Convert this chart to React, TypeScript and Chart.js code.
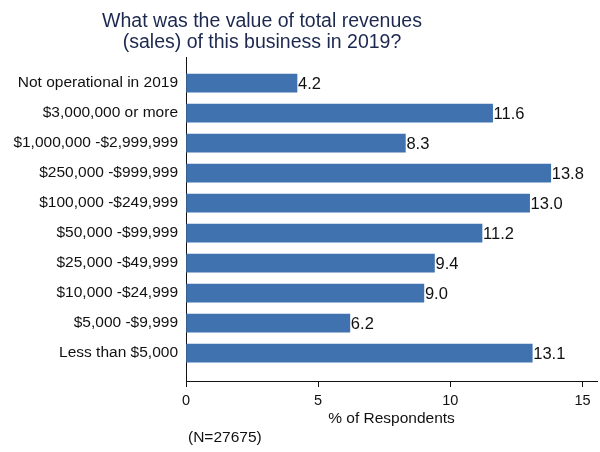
import React, { useEffect, useRef } from "react";
import { Chart, registerables } from "chart.js";

Chart.register(...registerables);

const categories = [
  "Not operational in 2019",
  "$3,000,000 or more",
  "$1,000,000 -$2,999,999",
  "$250,000 -$999,999",
  "$100,000 -$249,999",
  "$50,000 -$99,999",
  "$25,000 -$49,999",
  "$10,000 -$24,999",
  "$5,000 -$9,999",
  "Less than $5,000",
];
const values = [4.2, 11.6, 8.3, 13.8, 13.0, 11.2, 9.4, 9.0, 6.2, 13.1];
const xTicks = [0, 5, 10, 15];
const titleLines = [
  "What was the value of total revenues",
  "(sales) of this business in 2019?",
];
const xAxisTitle = "% of Respondents";
const noteText = "(N=27675)";

const FONT = "Arial, 'Liberation Sans', Helvetica, sans-serif";

export default function App() {
  const canvasRef = useRef<HTMLCanvasElement | null>(null);

  useEffect(() => {
    document.body.style.margin = "0";
    const canvas = canvasRef.current;
    if (!canvas) return;

    const textPlugin = {
      id: "textPlugin",
      afterDraw(chart: any) {
        const ctx = chart.ctx;
        ctx.save();
        // title
        ctx.fillStyle = "#1c2850";
        ctx.font = `19.5px ${FONT}`;
        ctx.textAlign = "center";
        ctx.textBaseline = "alphabetic";
        ctx.fillText(titleLines[0], 262, 27);
        ctx.fillText(titleLines[1], 262, 48);
        // value labels
        const meta = chart.getDatasetMeta(0);
        ctx.fillStyle = "#111";
        ctx.font = `16.5px ${FONT}`;
        ctx.textAlign = "left";
        ctx.textBaseline = "middle";
        meta.data.forEach((el: any, i: number) => {
          ctx.fillText(values[i].toFixed(1), el.x + 1, el.y + 1);
        });
        // note
        ctx.font = `15.5px ${FONT}`;
        ctx.textBaseline = "middle";
        ctx.fillText(noteText, 188, 438);
        ctx.restore();
      },
    };

    const chart = new Chart(canvas, {
      type: "bar",
      data: {
        datasets: [
          {
            data: values.map((v, i) => ({ x: v, y: i })),
            backgroundColor: "#3f72ae",
            borderWidth: 0,
            barThickness: 18,
          },
        ],
      },
      options: {
        indexAxis: "y",
        animation: false,
        responsive: false,
        maintainAspectRatio: false,
        layout: { padding: { top: 57, right: 3, left: 0, bottom: 0 } },
        plugins: {
          legend: { display: false },
          title: { display: false },
          tooltip: { enabled: false },
        },
        scales: {
          x: {
            type: "linear",
            min: 0,
            max: 15.55,
            afterBuildTicks: (scale: any) => {
              scale.ticks = xTicks.map((v) => ({ value: v }));
            },
            afterFit: (scale: any) => {
              scale.height = 71;
            },
            grid: {
              drawOnChartArea: false,
              drawTicks: true,
              tickLength: 6,
              color: "#111",
            },
            border: { display: true, color: "#111", width: 1 },
            ticks: {
              color: "#111",
              font: { family: FONT, size: 14.5 },
              padding: 5,
              maxRotation: 0,
            },
            title: {
              display: true,
              text: xAxisTitle,
              color: "#111",
              font: { family: FONT, size: 15.5 },
              padding: { top: 0, bottom: 24 },
            },
          },
          y: {
            type: "linear",
            reverse: true,
            offset: false,
            min: -0.87,
            max: 9.93,
            afterBuildTicks: (scale: any) => {
              scale.ticks = categories.map((_, i) => ({ value: i }));
            },
            afterFit: (scale: any) => {
              scale.width = 186;
            },
            grid: { display: false, drawTicks: false, offset: false },
            border: { display: true, color: "#111", width: 1 },
            ticks: {
              color: "#111",
              font: { family: FONT, size: 15.5 },
              padding: 8,
              callback: (v: any) => categories[Number(v)] ?? "",
            },
          },
        },
      },
      plugins: [textPlugin],
    } as any);

    return () => chart.destroy();
  }, []);

  return (
    <div style={{ width: 600, height: 452, background: "#fff" }}>
      <canvas ref={canvasRef} width={600} height={452} />
    </div>
  );
}
